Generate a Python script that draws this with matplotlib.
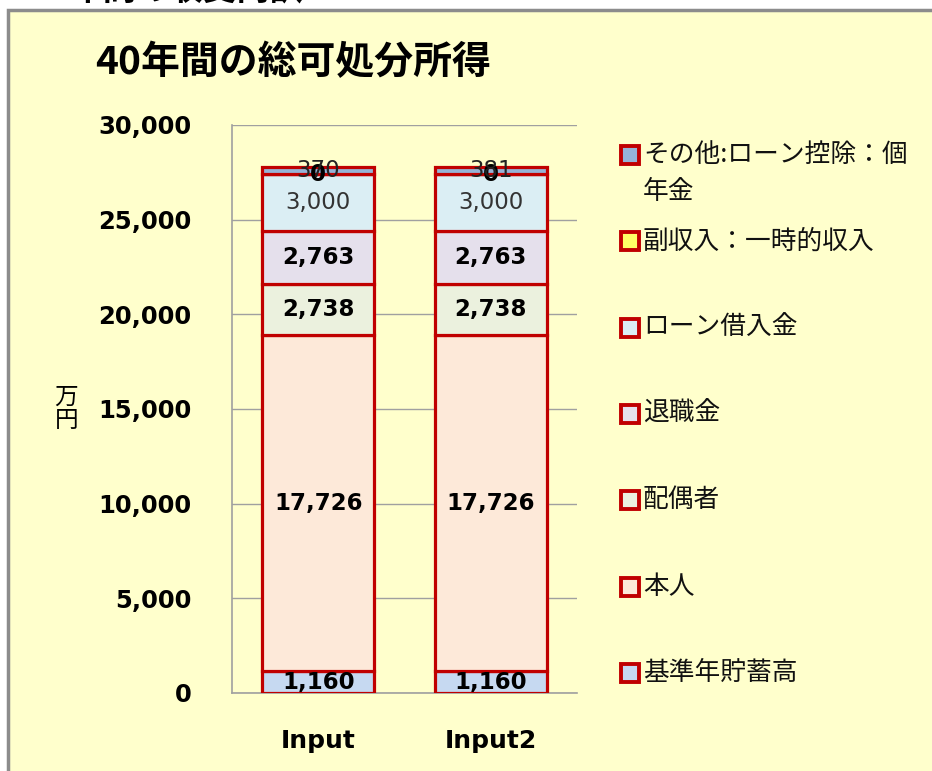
import matplotlib.pyplot as plt
from matplotlib.patches import Rectangle
from matplotlib.ticker import FuncFormatter

plt.rcParams['font.family'] = ['DejaVu Sans', 'Noto Sans CJK JP']

# data (万円)
categories = ['Input', 'Input2']
series_names = ['基準年貯蓄高', '本人', '配偶者', '退職金', 'ローン借入金',
                '副収入：一時的収入', 'その他:ローン控除：個\n年金']
savings = [1160, 1160]
self_income = [17726, 17726]
spouse = [2738, 2738]
retirement = [2763, 2763]
loan = [3000, 3000]
side_income = [0, 0]
other = [370, 381]
series_values = [savings, self_income, spouse, retirement, loan, side_income, other]

colors = ['#C6D9F1', '#FDE9D9', '#EBF1DE', '#E5E0EC', '#DBEEF4', '#FFFF66', '#95B3D7']
bold_label = [True, True, True, True, False, True, False]
label_color = ['black', 'black', 'black', 'black', '#333333', 'black', '#222222']

W, H = 932, 771
fig = plt.figure(figsize=(W / 100, H / 100), dpi=100, facecolor='white')

# cut-off heading of the sheet above the chart box
fig.text(30 / W, 1 + 9 / H, '40年間の収支内訳', fontsize=24, fontweight='bold',
         family=['Noto Sans CJK JP'], va='center', ha='left', zorder=0)

# chart box
fig.patches.append(Rectangle((8 / W, -0.05), 1.2, 1 - 10 / H + 0.05,
                             transform=fig.transFigure, facecolor='#FFFFCC',
                             edgecolor='#8C8C8C', linewidth=2.5, zorder=0.5))

ax = fig.add_axes([232 / W, 1 - 693 / H, (577 - 232) / W, (693 - 125) / H])
ax.set_facecolor('none')
ax.set_zorder(2)

x = list(range(len(categories)))
bottoms = [0] * len(categories)
for name, vals, c, b, lc in zip(series_names, series_values, colors, bold_label, label_color):
    ax.bar(x, vals, bottom=bottoms, width=0.65, color=c, edgecolor='#C00000',
           linewidth=2.3, zorder=3, label=name)
    for xi, v, bt in zip(x, vals, bottoms):
        ax.text(xi, bt + v / 2, f'{v:,}', ha='center', va='center',
                fontsize=16.5, fontweight='bold' if b else 'normal', color=lc, zorder=5)
    bottoms = [bt + v for bt, v in zip(bottoms, vals)]

ax.set_xlim(-0.5, 1.5)
ax.set_ylim(0, 30000)
ax.set_yticks(range(0, 30001, 5000))
ax.yaxis.set_major_formatter(FuncFormatter(lambda v, p: f'{int(v):,}'))
ax.set_xticks(x)
ax.set_xticklabels(categories, fontsize=18, fontweight='bold')
for t in ax.get_yticklabels():
    t.set_fontsize(17.5)
    t.set_fontweight('bold')
ax.tick_params(axis='both', length=0)
ax.tick_params(axis='y', pad=29)
ax.tick_params(axis='x', pad=26)
ax.grid(axis='y', color='#A0A0A0', linewidth=1, zorder=0)
for s in ['top', 'right']:
    ax.spines[s].set_visible(False)
for s in ['left', 'bottom']:
    ax.spines[s].set_color('#A0A0A0')
    ax.spines[s].set_linewidth(1.2)

ax.set_ylabel('万\n円', rotation=0, fontsize=17, family=['Noto Sans CJK JP'],
              linespacing=1.0, va='center')
ax.yaxis.set_label_coords(-0.48, 0.5)

fig.text(95 / W, 1 - 63 / H, '40年間の総可処分所得', fontsize=28, fontweight='bold',
         family=['Noto Sans CJK JP'], ha='left', va='center')

# legend (top entry = last series)
y0, step = 155, 86.3
for i, (name, c) in enumerate(zip(series_names[::-1], colors[::-1])):
    yc = y0 + i * step
    fig.patches.append(Rectangle((621 / W, 1 - (yc + 9) / H), 18 / W, 18 / H,
                                 transform=fig.transFigure, facecolor=c,
                                 edgecolor='#C00000', linewidth=2.8, zorder=4))
    fig.text(643 / W, 1 - (yc - 13) / H, name, fontsize=18.5,
             family=['Noto Sans CJK JP'], ha='left', va='top', linespacing=1.55,
             color='#111111')

fig.savefig('out.png', dpi=100, facecolor='white')
